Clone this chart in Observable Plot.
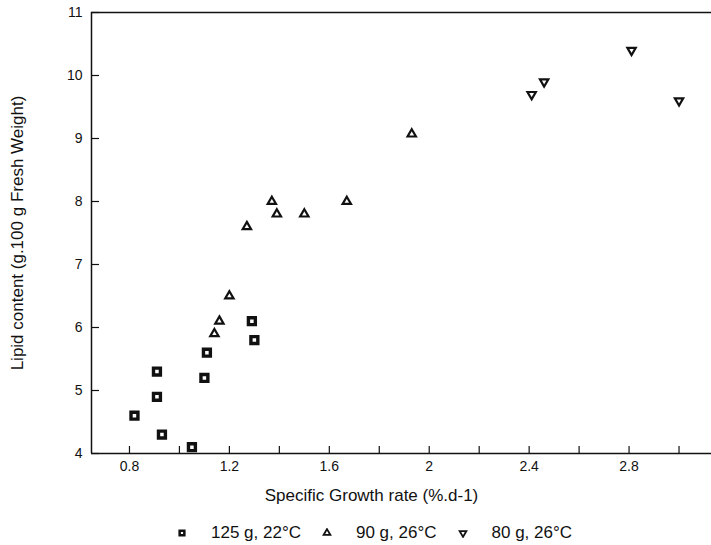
<!DOCTYPE html>
<html>
<head>
<meta charset="utf-8">
<script src="https://cdn.jsdelivr.net/npm/d3@7"></script>
<script src="https://cdn.jsdelivr.net/npm/@observablehq/plot@0.6"></script>
<style>
  body { margin: 0; background: #fff; font-family: "Liberation Sans", Arial, sans-serif; }
  #legend { display: flex; align-items: center; height: 24px; padding-top: 11px; margin-left: 177px; font-size: 17px; color: #111; }
  #legend .item { display: flex; align-items: center; margin-right: 21px; }
  #legend svg { margin-right: 24px; }
</style>
</head>
<body>
<div id="chart"></div>
<div id="legend"></div>
<script>
// Specific growth rate (%.d-1) and lipid content for each fish group
const growth125 = [0.82, 0.91, 0.91, 0.93, 1.05, 1.10, 1.11, 1.29, 1.30];
const lipid125  = [4.6, 5.3, 4.9, 4.3, 4.1, 5.2, 5.6, 6.1, 5.8];

const growth90 = [1.14, 1.16, 1.20, 1.27, 1.37, 1.39, 1.50, 1.67, 1.93];
const lipid90  = [5.9, 6.1, 6.5, 7.6, 8.0, 7.8, 7.8, 8.0, 9.07];

const growth80 = [2.41, 2.46, 2.81, 3.00];
const lipid80  = [9.7, 9.9, 10.4, 9.6];

const seriesNames = ["125 g, 22°C", "90 g, 26°C", "80 g, 26°C"];

const xTickValues = [0.8, 1.0, 1.2, 1.4, 1.6, 1.8, 2.0, 2.2, 2.4, 2.6, 2.8, 3.0];
const xLabelValues = [0.8, 1.2, 1.6, 2, 2.4, 2.8];
const yTickValues = [4, 5, 6, 7, 8, 9, 10, 11];

const xTitle = "Specific Growth rate (%.d-1)";
const yTitle = "Lipid content (g.100 g Fresh Weight)";

const toRows = (xs, ys, name) => xs.map((x, i) => ({x, y: ys[i], series: name}));
const rows125 = toRows(growth125, lipid125, seriesNames[0]);
const rows90 = toRows(growth90, lipid90, seriesNames[1]);
const rows80 = toRows(growth80, lipid80, seriesNames[2]);

const width = 711, height = 510;
const margin = {top: 12, right: 0, bottom: 57, left: 91};
const plotW = width - margin.left - margin.right;
const plotH = height - margin.top - margin.bottom;
const ink = "#111";

const chart = Plot.plot({
  width, height,
  marginTop: margin.top, marginRight: margin.right,
  marginBottom: margin.bottom, marginLeft: margin.left,
  style: {fontFamily: "'Liberation Sans', Arial, sans-serif", fontSize: "14px", color: ink, background: "#fff"},
  x: {domain: [0.648, 3.13]},
  y: {domain: [4, 11]},
  marks: [
    // frame lines: left, bottom, top
    Plot.ruleX([0.648], {stroke: ink, strokeWidth: 1.5}),
    Plot.ruleY([4, 11], {stroke: ink, strokeWidth: 1.5}),
    // inward tick marks
    Plot.tickX(xTickValues, {x: d => d, insetTop: plotH - 7, stroke: ink, strokeWidth: 1.2}),
    Plot.tickY(yTickValues, {y: d => d, insetRight: plotW - 8, stroke: ink, strokeWidth: 1.2}),
    // tick labels
    Plot.axisX(xLabelValues, {tickSize: 0, tickPadding: 8, tickFormat: d => String(d), label: null, fontSize: 14}),
    Plot.axisY(yTickValues, {tickSize: 0, tickPadding: 9, tickFormat: d => String(d), label: null, fontSize: 14}),
    // axis titles
    Plot.text([xTitle], {frameAnchor: "bottom", lineAnchor: "middle", dy: 42, dx: -30, fontSize: 17, fill: ink}),
    Plot.text([yTitle], {frameAnchor: "left", textAnchor: "middle", lineAnchor: "middle", rotate: -90, dx: -74, fontSize: 17, fill: ink}),
    // data points
    Plot.dot(rows125, {x: "x", y: "y", symbol: "square", r: 3.9, fill: "white", stroke: ink, strokeWidth: 3.4}),
    Plot.dot(rows90, {x: "x", y: "y", symbol: "triangle", r: 3.1, fill: "white", stroke: ink, strokeWidth: 2.2}),
    Plot.dot(rows80, {x: "x", y: "y", symbol: "triangle", rotate: 180, r: 3.1, fill: "white", stroke: ink, strokeWidth: 2.2})
  ]
});
document.getElementById("chart").append(chart);

// legend below the chart
const legendSymbols = [
  {name: seriesNames[0], type: d3.symbolSquare, size: 22, sw: 2.5, rot: 0},
  {name: seriesNames[1], type: d3.symbolTriangle, size: 20, sw: 1.8, rot: 0},
  {name: seriesNames[2], type: d3.symbolTriangle, size: 20, sw: 1.8, rot: 180}
];
const legend = d3.select("#legend");
legendSymbols.forEach(s => {
  const item = legend.append("div").attr("class", "item");
  const svg = item.append("svg").attr("width", 10).attr("height", 10);
  svg.append("path")
    .attr("d", d3.symbol(s.type, s.size)())
    .attr("transform", `translate(5,5) rotate(${s.rot})`)
    .attr("fill", "white")
    .attr("stroke", ink)
    .attr("stroke-width", s.sw);
  item.append("span").text(s.name);
});
</script>
</body>
</html>
